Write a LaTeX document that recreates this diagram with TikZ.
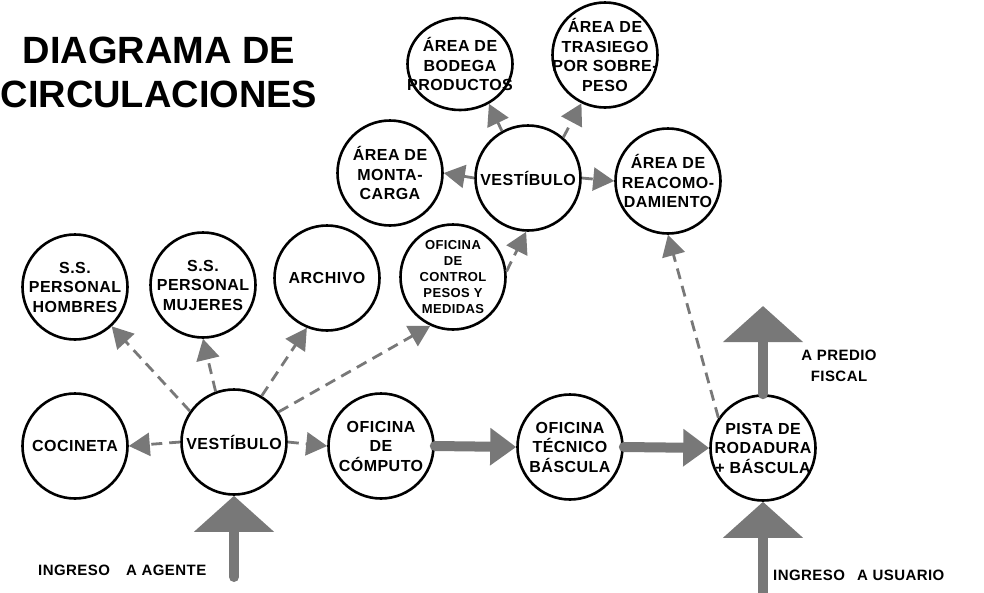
\documentclass[tikz,border=0pt]{standalone}
\usepackage{fontspec}
\setmainfont{Liberation Sans}
\newfontfamily\cfont[LetterSpace=3]{Liberation Sans}
\usetikzlibrary{arrows.meta,shapes.geometric}
\definecolor{arrgray}{RGB}{120,120,120}
\begin{document}
\begin{tikzpicture}[x=1pt,y=-1pt,
  circ/.style={ellipse, draw=black, line width=2.6pt, fill=white, minimum width=105pt, minimum height=105pt, inner sep=0pt},
  ctext/.style={align=center, inner sep=0pt, font=\cfont\bfseries\fontsize{16}{19.5}\selectfont},
  stext/.style={align=center, inner sep=0pt, font=\cfont\bfseries\fontsize{13}{16.2}\selectfont},
  lbl/.style={inner sep=0pt, font=\cfont\bfseries\fontsize{15}{21}\selectfont},
  ttl/.style={inner sep=0pt, anchor=base, font=\bfseries\fontsize{38}{44}\selectfont},
  dasharr/.style={draw=arrgray, line width=2.8pt, dash pattern=on 11pt off 7pt, -{Triangle[length=21pt,width=23pt]}, arrgray},
  bigarr/.style={draw=arrgray, line width=10pt, line cap=round, -{Triangle[length=36pt,width=78pt]}, arrgray},
  midarr/.style={draw=arrgray, line width=10pt, line cap=round, -{Triangle[length=26pt,width=36pt]}, arrgray}
]
\useasboundingbox (0,0) rectangle (984,592);

% title
\node[ttl] (t1) at (159,63) {DIAGRAMA DE};
\node[ttl] (t2) at (159,107) {CIRCULACIONES};

% circles
\node[circ, minimum height=92pt] (bod) at (460,64) {};
\node[circ] (tra) at (605,55) {};
\node[circ] (mc) at (390,173) {};
\node[circ] (vt) at (528,178) {};
\node[circ] (re) at (668,181) {};
\node[circ] (ssh) at (75,287) {};
\node[circ] (ssm) at (203,285) {};
\node[circ] (arc) at (327,278) {};
\node[circ] (ofc) at (453,277) {};
\node[circ] (coc) at (75,446) {};
\node[circ] (vb) at (234,442) {};
\node[circ] (comp) at (381,446) {};
\node[circ] (tec) at (570,447) {};
\node[circ] (pis) at (763,448) {};

% circle texts
\node[ctext] (bod-t) at (bod) {ÁREA DE\\BODEGA\\PRODUCTOS};
\node[ctext] (tra-t) at (tra) {ÁREA DE\\TRASIEGO\\POR SOBRE-\\PESO};
\node[ctext] (mc-t) at (mc) {ÁREA DE\\MONTA-\\CARGA};
\node[ctext] (vt-t) at (vt) {VESTÍBULO};
\node[ctext] (re-t) at (re) {ÁREA DE\\REACOMO-\\DAMIENTO};
\node[ctext] (ssh-t) at (ssh) {S.S.\\PERSONAL\\HOMBRES};
\node[ctext] (ssm-t) at (ssm) {S.S.\\PERSONAL\\MUJERES};
\node[ctext] (arc-t) at (arc) {ARCHIVO};
\node[stext] (ofc-t) at (ofc) {OFICINA\\DE\\CONTROL\\PESOS Y\\MEDIDAS};
\node[ctext] (coc-t) at (coc) {COCINETA};
\node[ctext] (vb-t) at (vb) {VESTÍBULO};
\node[ctext] (comp-t) at (comp) {OFICINA\\DE\\CÓMPUTO};
\node[ctext] (tec-t) at (tec) {OFICINA\\TÉCNICO\\BÁSCULA};
\node[ctext] (pis-t) at (pis) {PISTA DE\\RODADURA\\+ BÁSCULA};

% labels
\node[lbl, anchor=base west] (la) at (38,575) {INGRESO\hspace{16pt}A AGENTE};
\node[lbl, anchor=base west] (lu) at (773,580) {INGRESO\hspace{12pt}A USUARIO};
\node[lbl, anchor=base, align=center] (lp) at (839,381) {A PREDIO\\FISCAL};

% dashed connectors
\draw[dasharr] (vb.145) -- (ssh.-47);
\draw[dasharr] (vb.110) -- (ssm.-90);
\draw[dasharr] (vb.59) -- (arc.-112);
\draw[dasharr] (vb.34) -- (ofc.-115);
\draw[dasharr] (vb.180) -- (coc.0);
\draw[dasharr] (vb.0) -- (comp.180);
\draw[dasharr] (ofc.6) -- (vt.-92);
\draw[dasharr] (vt.180) -- (mc.0);
\draw[dasharr] (vt.0) -- (re.180);
\draw[dasharr] (vt.119) -- (bod.-54);
\draw[dasharr] (vt.49) -- (tra.-116);
\draw[dasharr] (pis.146) -- (re.-90);

% big arrows
\coordinate (agIn) at (234,577);
\coordinate (usIn) at (763,600);
\coordinate (predio) at (763,306);
\draw[bigarr] (agIn) -- (vb.south);
\draw[bigarr] (usIn) -- (pis.south);
\draw[bigarr] (pis.north) -- (predio);
\draw[midarr] (comp.east) -- (tec.west);
\draw[midarr] (tec.east) -- (pis.west);
\end{tikzpicture}
\end{document}
